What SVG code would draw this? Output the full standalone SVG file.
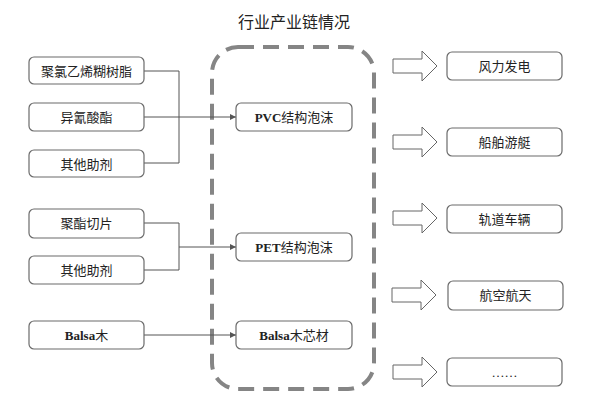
<svg xmlns="http://www.w3.org/2000/svg" width="595" height="401" viewBox="0 0 595 401">
<defs>
<style>
.box{fill:#fff;stroke:#6b6b6b;stroke-width:1.2}
.t{font-family:"Liberation Serif","Noto Sans CJK SC",serif;font-size:13px;fill:#222;text-anchor:middle;dominant-baseline:central}
.b{font-weight:bold}
.conn{fill:none;stroke:#555;stroke-width:1}
.blk{fill:#fff;stroke:#666;stroke-width:1}
</style>
<marker id="ah" viewBox="0 0 8 8" refX="8" refY="4" markerWidth="6" markerHeight="6" orient="auto" markerUnits="userSpaceOnUse">
<path d="M0,0 L8,4 L0,8 Z" fill="#555"/>
</marker>
</defs>
<rect width="595" height="401" fill="#fff"/>
<text x="294" y="22" class="t" style="font-size:16px">行业产业链情况</text>
<g id="boundary">
<rect x="212" y="47" width="162" height="342" rx="26" fill="none" stroke="#858585" stroke-width="4" stroke-dasharray="16,9"/>
</g>
<g id="connectors">
<polyline class="conn" points="144,71 179,71 179,163 144,163"/>
<line class="conn" x1="144" y1="117" x2="236" y2="117" marker-end="url(#ah)"/>
<polyline class="conn" points="144,223 179,223 179,270 144,270"/>
<line class="conn" x1="179" y1="247" x2="236" y2="247" marker-end="url(#ah)"/>
<line class="conn" x1="144" y1="335" x2="236" y2="335" marker-end="url(#ah)"/>
</g>
<g id="n1"><rect class="box" x="29" y="57" width="115" height="27" rx="5"/><text class="t" x="86.5" y="71">聚氯乙烯糊树脂</text></g>
<g id="n2"><rect class="box" x="29" y="103" width="115" height="28" rx="5"/><text class="t" x="86.5" y="117">异氰酸酯</text></g>
<g id="n3"><rect class="box" x="29" y="150" width="115" height="27" rx="5"/><text class="t" x="86.5" y="164">其他助剂</text></g>
<g id="n4"><rect class="box" x="29" y="209" width="115" height="29" rx="5"/><text class="t" x="86.5" y="223">聚酯切片</text></g>
<g id="n5"><rect class="box" x="29" y="256" width="115" height="28" rx="5"/><text class="t" x="86.5" y="270">其他助剂</text></g>
<g id="n6"><rect class="box" x="29" y="321" width="115" height="28" rx="5"/><text class="t" x="86.5" y="335"><tspan class="b">Balsa</tspan>木</text></g>
<g id="pvc"><rect class="box" x="236" y="103" width="116" height="28" rx="5"/><text class="t" x="294" y="117"><tspan class="b">PVC</tspan>结构泡沫</text></g>
<g id="pet"><rect class="box" x="236" y="233" width="116" height="28" rx="5"/><text class="t" x="294" y="247"><tspan class="b">PET</tspan>结构泡沫</text></g>
<g id="balsa"><rect class="box" x="236" y="321" width="116" height="28" rx="5"/><text class="t" x="294" y="335"><tspan class="b">Balsa</tspan>木芯材</text></g>
<g id="arrows">
<path class="blk" d="M393,59 H422 V51 L437,66 L422,81 V73 H393 Z"/>
<path class="blk" d="M393,135 H422 V127 L437,142 L422,157 V149 H393 Z"/>
<path class="blk" d="M393,211 H422 V203 L437,218 L422,233 V225 H393 Z"/>
<path class="blk" d="M392,288 H421 V280 L436,295 L421,310 V302 H392 Z"/>
<path class="blk" d="M393,365 H422 V357 L437,372 L422,387 V379 H393 Z"/>
</g>
<g id="r1"><rect class="box" x="447" y="52" width="115" height="28" rx="5"/><text class="t" x="504.5" y="66">风力发电</text></g>
<g id="r2"><rect class="box" x="447" y="128" width="115" height="28" rx="5"/><text class="t" x="504.5" y="142">船舶游艇</text></g>
<g id="r3"><rect class="box" x="447" y="205" width="115" height="28" rx="5"/><text class="t" x="504.5" y="219">轨道车辆</text></g>
<g id="r4"><rect class="box" x="448" y="281" width="115" height="29" rx="5"/><text class="t" x="505.5" y="295">航空航天</text></g>
<g id="r5"><rect class="box" x="447" y="358" width="115" height="28" rx="5"/><text class="t" x="504.5" y="372">……</text></g>
</svg>
